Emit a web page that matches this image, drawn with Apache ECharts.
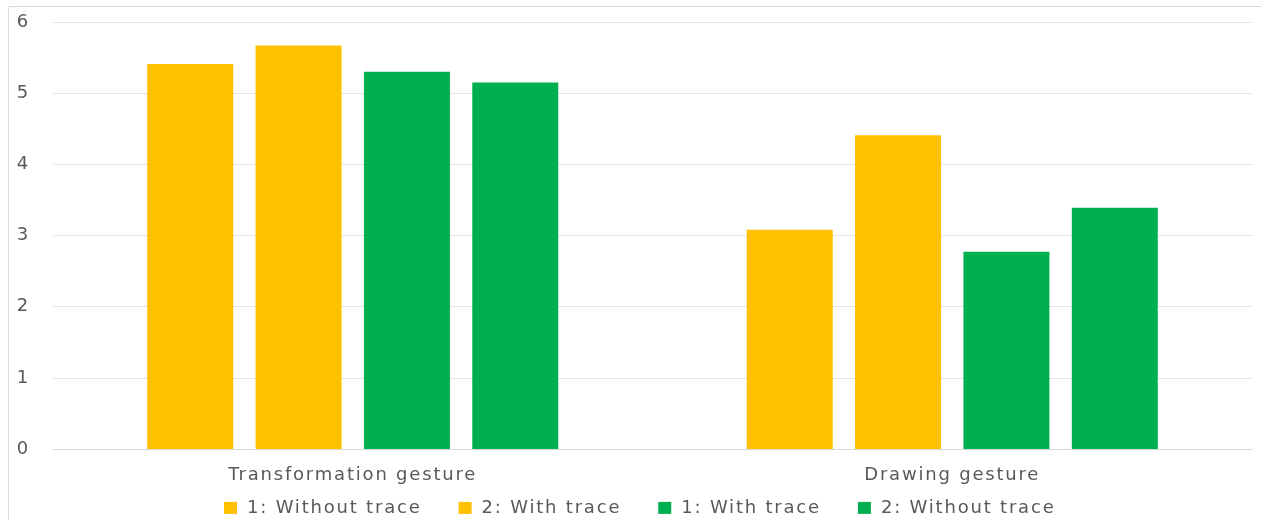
<!DOCTYPE html>
<html>
<head>
<meta charset="utf-8">
<script src="https://cdn.jsdelivr.net/npm/echarts@6/dist/echarts.min.js"></script>
<style>
  html, body { margin: 0; padding: 0; background: #fff; }
  #chart { width: 1261px; height: 520px; }
</style>
</head>
<body>
<div id="chart"></div>
<script>
// Gesture categories on the x axis
const categories = ['Transformation gesture', 'Drawing gesture'];

// Mean scores per condition
const seriesNames = ['1: Without trace', '2: With trace', '1: With trace', '2: Without trace'];
const withoutTrace1 = [5.41, 3.08];
const withTrace2 = [5.67, 4.41];
const withTrace1 = [5.30, 2.77];
const withoutTrace2 = [5.15, 3.39];
const seriesValues = [withoutTrace1, withTrace2, withTrace1, withoutTrace2];
const seriesColors = ['#FFC000', '#FFC000', '#00B050', '#00B050'];

// Y axis range
const yMin = 0, yMax = 6, yStep = 1;

const FONT = 'DejaVu Sans';
const TEXT = '#595959';

// Slightly open tracking for every piece of chart text (drawing and measuring
// alike, so centring and legend layout stay consistent).
const LETTER_SPACING = '1.8px';
const proto = CanvasRenderingContext2D.prototype;
['fillText', 'strokeText', 'measureText'].forEach(fn => {
  const orig = proto[fn];
  proto[fn] = function (...args) {
    if ('letterSpacing' in this) this.letterSpacing = LETTER_SPACING;
    return orig.apply(this, args);
  };
});

const chart = echarts.init(document.getElementById('chart'));
chart.setOption({
  animation: false,
  textStyle: { fontFamily: FONT },
  graphic: [{
    type: 'rect',
    shape: { x: 8.5, y: 6.5, width: 1270, height: 530 },
    style: { fill: 'none', stroke: '#d9d9d9', lineWidth: 1 },
    silent: true
  }],
  grid: { left: 53, right: 9, top: 22, bottom: 71 },
  legend: {
    top: 498,
    left: 224,
    padding: 0,
    icon: 'rect',
    itemWidth: 13,
    itemHeight: 12,
    itemGap: 37,
    textStyle: { color: TEXT, fontSize: 18, fontFamily: FONT, padding: [0, 0, 0, 5] },
    data: seriesNames
  },
  xAxis: {
    type: 'category',
    data: categories,
    axisLine: { show: true, lineStyle: { color: '#d9d9d9' } },
    axisTick: { show: false },
    axisLabel: { color: TEXT, fontSize: 18, margin: 16, fontFamily: FONT }
  },
  yAxis: {
    type: 'value',
    min: yMin, max: yMax, interval: yStep,
    axisLine: { show: false },
    axisTick: { show: false },
    splitLine: { lineStyle: { color: '#e3e3e3' } },
    axisLabel: { color: TEXT, fontSize: 18, margin: 23, fontFamily: FONT }
  },
  series: seriesNames.map((name, i) => ({
    name,
    type: 'bar',
    data: seriesValues[i],
    barWidth: 86,
    barGap: '26%',
    itemStyle: { color: seriesColors[i] }
  }))
});
</script>
</body>
</html>
